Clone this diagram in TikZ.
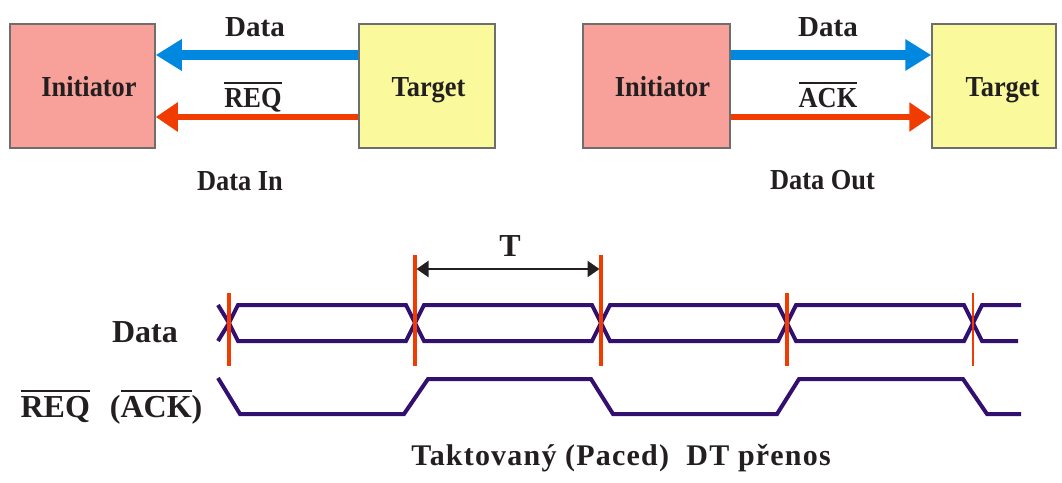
\documentclass[tikz,border=0pt]{standalone}
\usepackage{fontspec}
\setmainfont{Liberation Serif}[FakeStretch=0.91]
\newfontfamily\plainserif{Liberation Serif}
\newfontfamily\spacedserif{Liberation Serif}[LetterSpace=4]
\usetikzlibrary{arrows.meta}

\definecolor{boxpink}{HTML}{F8A09A}
\definecolor{boxyellow}{HTML}{FAFA9C}
\definecolor{boxline}{HTML}{6E6E6E}
\definecolor{databluec}{HTML}{0088E0}
\definecolor{hsred}{HTML}{F03C00}
\definecolor{sigviolet}{HTML}{33106F}
\definecolor{ink}{HTML}{231F20}

% signal name with an active-low bar over it
\newcommand\barred[1]{\vbox{\hrule height 2pt\kern 4pt\hbox{#1}}}

\begin{document}
\begin{tikzpicture}[x=1pt,y=-1pt,
  font=\fontsize{29}{34}\selectfont\bfseries,
  every node/.style={text=ink, inner sep=0pt},
  every label/.style={text=ink, inner sep=0pt, text height=20pt, text depth=0pt},
  unit/.style={draw=boxline, line width=1.5pt, minimum height=124pt},
  initiator/.style={unit, fill=boxpink},
  target/.style={unit, fill=boxyellow},
  datalink/.style={draw=databluec, line width=10pt,
    -{Triangle[length=26pt,width=30pt]}},
  hslink/.style={draw=hsred, line width=6pt,
    -{Triangle[length=22pt,width=28pt]}},
  txt/.style={anchor=base},
  timing/.style={txt, font=\fontsize{32}{38}\selectfont\bfseries\plainserif},
  bus/.style={draw=sigviolet, line width=4pt},
  edge/.style={draw=hsred, line width=3.5pt},
  period/.style={draw=ink, line width=2.2pt,
    {Triangle[length=12pt,width=16pt]}-{Triangle[length=12pt,width=16pt]},
    shorten <=1.5pt, shorten >=1.5pt}]

\useasboundingbox (0,0) rectangle (1062,482);

% ---- Data In: target drives data towards the initiator
\node[initiator, minimum width=145pt,
  label={[name=iniAtxt, xshift=6.5pt]center:Initiator}] (iniA) at (82.5,86) {};
\node[target, minimum width=136pt,
  label={[name=tgtAtxt, xshift=1.5pt]center:Target}] (tgtA) at (427,86) {};
\draw[datalink] (tgtA.west |- 0,55) -- (iniA.east |- 0,55);
\draw[hslink] (tgtA.west |- 0,117) -- (iniA.east |- 0,117);
\node[txt] (dataA) at (255,36) {\plainserif Data};
\node[txt] (reqA) at (253,107) {\barred{REQ}};
\node[txt] (capA) at (240,190) {Data In};

% ---- Data Out: initiator drives data towards the target
\node[initiator, minimum width=147pt,
  label={[name=iniBtxt, xshift=6pt]center:Initiator}] (iniB) at (656.5,86) {};
\node[target, minimum width=124pt,
  label={[name=tgtBtxt, xshift=8.5pt]center:Target}] (tgtB) at (994,86) {};
\draw[datalink] (iniB.east |- 0,55) -- (tgtB.west |- 0,55);
\draw[hslink] (iniB.east |- 0,117) -- (tgtB.west |- 0,117);
\node[txt] (dataB) at (828,36) {\plainserif Data};
\node[txt] (ackB) at (828,107) {\barred{ACK}};
\node[txt] (capB) at (822.5,189) {Data Out};

% ---- timing diagram
\node[timing] (sigData) at (145,342) {Data};
\node[timing] (sigReq) at (111.5,417) {\barred{REQ}\hspace{20pt}(\barred{ACK})};

% data bus: one eye per period
\draw[bus] (218,305) -- (229,323) -- (218,341);
\foreach \a/\b in {229/415,415/601,601/787,787/973}
  \draw[bus] (\a,323) -- (\a+9,305) -- (\b-9,305) -- (\b,323)
             -- (\b-9,341) -- (\a+9,341) -- cycle;
\draw[bus] (1021,305) -- (982,305) -- (973,323) -- (982,341) -- (1018,341);

% handshake line toggling at every edge
\draw[bus] (218,378) -- (240,414) -- (404,414) -- (428,379) -- (591,379)
  -- (613,414) -- (777,414) -- (799,379) -- (963,379) -- (987,414) -- (1021,414);

% clock edges
\draw[edge] (229,293) -- (229,366);
\draw[edge] (415,255) -- (415,366);
\draw[edge] (601,255) -- (601,366);
\draw[edge] (787,293) -- (787,366);
\draw[edge, line width=2.5pt] (973,293) -- (973,366);

% period
\coordinate (pa) at (415,269);
\coordinate (pb) at (601,269);
\draw[period] (pa) -- (pb);
\node[timing] (plabel) at (510,256) {T};

\node[txt, font=\fontsize{30}{36}\selectfont\bfseries\spacedserif] (title)
  at (621,465) {Taktovaný (Paced)\ \ DT přenos};
\end{tikzpicture}
\end{document}
